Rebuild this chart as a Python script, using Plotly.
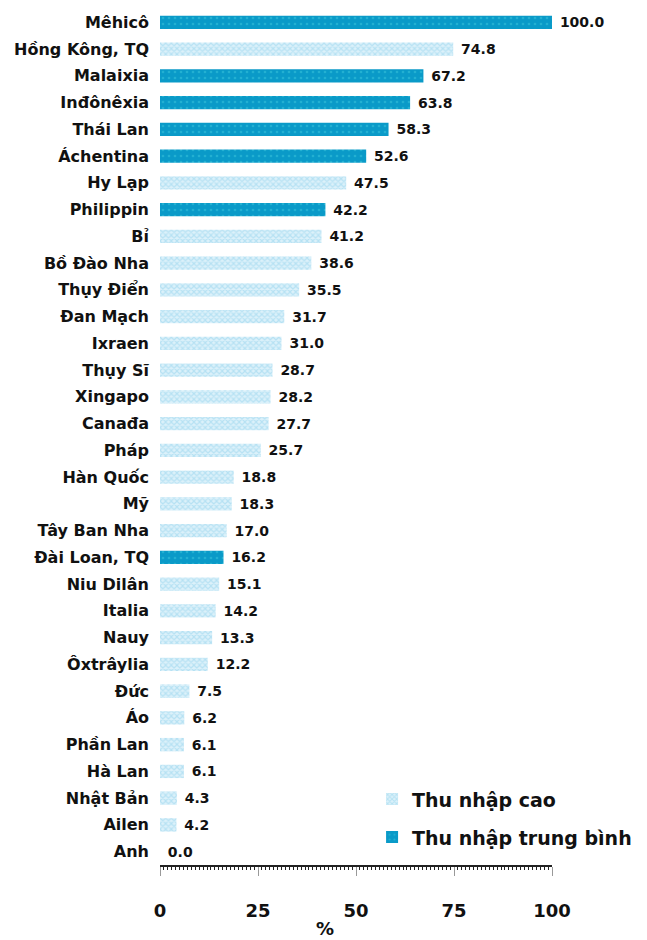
import plotly.graph_objects as go

countries = ["Mêhicô", "Hồng Kông, TQ", "Malaixia", "Inđônêxia", "Thái Lan", "Áchentina",
             "Hy Lạp", "Philippin", "Bỉ", "Bồ Đào Nha", "Thụy Điển", "Đan Mạch", "Ixraen",
             "Thụy Sĩ", "Xingapo", "Canađa", "Pháp", "Hàn Quốc", "Mỹ", "Tây Ban Nha",
             "Đài Loan, TQ", "Niu Dilân", "Italia", "Nauy", "Ôxtrâylia", "Đức", "Áo",
             "Phần Lan", "Hà Lan", "Nhật Bản", "Ailen", "Anh"]
values = [100.0, 74.8, 67.2, 63.8, 58.3, 52.6, 47.5, 42.2, 41.2, 38.6, 35.5, 31.7, 31.0,
          28.7, 28.2, 27.7, 25.7, 18.8, 18.3, 17.0, 16.2, 15.1, 14.2, 13.3, 12.2, 7.5, 6.2,
          6.1, 6.1, 4.3, 4.2, 0.0]
middle_income = ["Mêhicô", "Malaixia", "Inđônêxia", "Thái Lan", "Áchentina", "Philippin",
                 "Đài Loan, TQ"]
x_ticks = [0, 25, 50, 75, 100]
legend_names = ["Thu nhập cao", "Thu nhập trung bình"]
axis_title = "%"

FONT = "DejaVu Sans"
high_y = [c for c in countries if c not in middle_income]
high_x = [v for c, v in zip(countries, values) if c not in middle_income]
mid_y = [c for c in countries if c in middle_income]
mid_x = [v for c, v in zip(countries, values) if c in middle_income]

fig = go.Figure()
fig.add_trace(go.Bar(
    y=high_y, x=high_x, orientation="h", name=legend_names[0], legend="legend",
    marker=dict(color="white", line=dict(width=0),
                pattern=dict(shape="x", fgcolor="#8fd2ec", bgcolor="#dcf1fa", size=4, solidity=0.5)),
    text=["\u00a0" + f"{v:.1f}" for v in high_x], textposition="outside", cliponaxis=False,
    constraintext="none",
    textfont=dict(family=FONT, size=14, color="#111", weight="bold"),
))
fig.add_trace(go.Bar(
    y=mid_y, x=mid_x, orientation="h", name=legend_names[1], legend="legend2",
    marker=dict(color="#0a9ac8", line=dict(width=0),
                pattern=dict(shape=".", fgcolor="#3cc6dc", bgcolor="#0a9ac8", size=6, solidity=0.15)),
    text=["\u00a0" + f"{v:.1f}" for v in mid_x], textposition="outside", cliponaxis=False,
    constraintext="none",
    textfont=dict(family=FONT, size=14, color="#111", weight="bold"),
))

legend_font = dict(family=FONT, size=19, color="#111", weight="bold")
fig.update_layout(
    width=639, height=932,
    margin=dict(l=152, r=95, t=1, b=75),
    paper_bgcolor="white", plot_bgcolor="white",
    barmode="overlay", bargap=0.5,
    font=dict(family=FONT, size=16, color="#111"),
    showlegend=True,
    legend=dict(x=0.541, y=0.099, xanchor="left", yanchor="top", font=legend_font,
                bgcolor="rgba(0,0,0,0)"),
    legend2=dict(x=0.541, y=0.0546, xanchor="left", yanchor="top", font=legend_font,
                 bgcolor="rgba(0,0,0,0)"),
    xaxis=dict(range=[0, 100], tickvals=x_ticks, showgrid=False, zeroline=False,
               showline=True, linecolor="#222", linewidth=1.5,
               ticks="outside", ticklen=9, tickcolor="#999", tickwidth=1,
               ticklabelstandoff=20,
               tickfont=dict(family=FONT, size=18, color="#111", weight="bold"),
               minor=dict(dtick=1, ticks="outside", ticklen=3, tickcolor="#222", tickwidth=1)),
    yaxis=dict(categoryorder="array", categoryarray=countries[::-1],
               showgrid=False, showline=False, ticks="", ticklabelstandoff=10,
               tickfont=dict(family=FONT, size=16, color="#111", weight="bold")),
    annotations=[dict(text=axis_title, xref="paper", yref="paper", x=0.42, y=0,
                      yshift=-76, showarrow=False,
                      font=dict(family=FONT, size=18, color="#111", weight="bold"))],
)

fig.write_html("out.html")
